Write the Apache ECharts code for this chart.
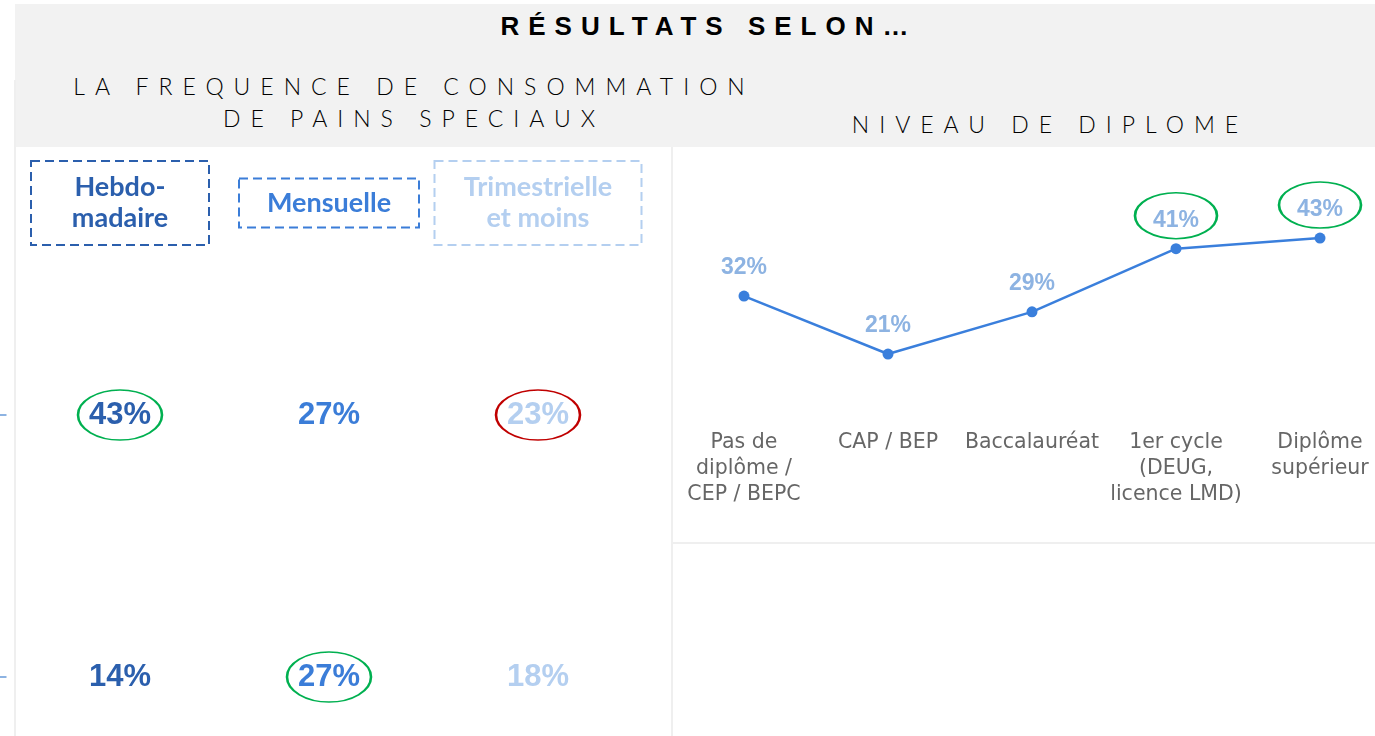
<!DOCTYPE html>
<html>
<head>
<meta charset="utf-8">
<script src="https://cdn.jsdelivr.net/npm/echarts@6/dist/echarts.min.js"></script>
<style>
  body { margin: 0; width: 1375px; height: 736px; position: relative; overflow: hidden; background: #fff; }
  .band { position: absolute; left: 15px; top: 4px; width: 1360px; height: 143px; background: #f2f2f2; }
  .vline { position: absolute; background: #efefef; width: 2px; }
  .hline { position: absolute; background: #efefef; height: 2px; }
  .titre { position: absolute; left: 0; width: 1400px; top: 11px; text-align: center;
    font: bold 26px 'Liberation Sans', sans-serif; letter-spacing: 9px; padding-left: 9px; color: #000; }
  .sous-titre { position: absolute; text-align: center; font-family: Lato, 'Open Sans', sans-serif;
    font-weight: 300; font-size: 23px; letter-spacing: 10px; color: #000; line-height: 32px; }
  /* plus grand que la page : la grille du tableau déborde en bas */
  #chart { position: absolute; left: 0; top: 0; width: 1500px; height: 900px; }
</style>
</head>
<body>
  <div class="band"></div>
  <div class="vline" style="left: 14px; top: 80px; height: 656px"></div>
  <div class="vline" style="left: 671px; top: 147px; height: 589px"></div>
  <div class="hline" style="left: 673px; top: 542px; width: 702px"></div>

  <div class="titre">RÉSULTATS SELON…</div>
  <div class="sous-titre" style="left: 0; width: 808px; top: 70px; padding-left: 10px">LA FREQUENCE DE CONSOMMATION<br>DE PAINS SPECIAUX</div>
  <div class="sous-titre" style="left: 700px; width: 680px; top: 108px; padding-left: 10px">NIVEAU DE DIPLOME</div>

  <div id="chart"></div>

<script>
// fréquence de consommation de pains spéciaux
const frequences = ['Hebdo-\nmadaire', 'Mensuelle', 'Trimestrielle\net moins']
const lignes = ['ligne 1', 'ligne 2']
const hebdo = [43, 14]
const mensuelle = [27, 27]
const trimestrielle = [23, 18]
const cellulesVertes = [[0, 0], [1, 1]]
const cellulesRouges = [[2, 0]]

// niveau de diplôme
const diplomes = [
  'Pas de\ndiplôme /\nCEP / BEPC',
  'CAP / BEP',
  'Baccalauréat',
  '1er cycle\n(DEUG,\nlicence LMD)',
  'Diplôme\nsupérieur'
]
const tauxDiplome = [32, 21, 29, 41, 43]
const diplomesSurlignes = [3, 4]

const couleurs = ['#2b5fad', '#3b7dd8', '#b4cff0']
const largeursBoites = [178, 180, 207]
const paddingsBoites = [[11, 0], [9, 0], [11, 0]]
const vert = '#00b050'
const rouge = '#c00000'

const colonnes = [hebdo, mensuelle, trimestrielle]

const chart = echarts.init(document.getElementById('chart'))

const option = {
  animation: false,
  backgroundColor: 'transparent',
  grid: [
    { left: 15.5, top: 284, width: 627, height: 524 },
    { left: 672, top: 201.2, width: 720, height: 263.5 }
  ],
  xAxis: [
    {
      type: 'category',
      gridIndex: 0,
      position: 'top',
      data: frequences.map((f, i) => ({
        value: f,
        textStyle: {
          color: couleurs[i],
          borderColor: couleurs[i],
          width: largeursBoites[i],
          padding: paddingsBoites[i],
          align: 'center',
          verticalAlign: 'middle'
        }
      })),
      axisLine: { show: false },
      axisTick: { show: false },
      axisLabel: {
        interval: 0,
        margin: 81,
        fontFamily: 'Lato',
        fontWeight: 'bold',
        fontSize: 27,
        lineHeight: 31,
        borderWidth: 2,
        borderType: [9, 5]
      }
    },
    {
      type: 'category',
      gridIndex: 1,
      data: diplomes,
      offset: -43,
      axisLine: { show: false },
      axisTick: { show: false },
      axisLabel: {
        interval: 0,
        margin: 8,
        fontFamily: 'DejaVu Sans',
        fontSize: 20.5,
        lineHeight: 26,
        color: '#666666'
      }
    }
  ],
  yAxis: [
    {
      type: 'category',
      gridIndex: 0,
      data: lignes,
      inverse: true,
      offset: 9,
      axisLine: { show: false },
      axisLabel: { show: false },
      axisTick: {
        show: true,
        alignWithLabel: true,
        length: 7,
        lineStyle: { color: '#8db3e2', width: 2 }
      },
      splitLine: { show: false }
    },
    {
      type: 'value',
      gridIndex: 1,
      min: 0,
      max: 50,
      show: false
    }
  ],
  series: [
    ...colonnes.map((vals, c) => ({
      type: 'scatter',
      name: frequences[c],
      xAxisIndex: 0,
      yAxisIndex: 0,
      silent: true,
      symbolSize: 1,
      itemStyle: { color: 'transparent', opacity: 1 },
      data: vals.map((v, r) => [c, r, v]),
      label: {
        show: true,
        position: 'inside',
        formatter: (p) => p.value[2] + '%',
        color: couleurs[c],
        fontFamily: 'Liberation Sans',
        fontWeight: 'bold',
        fontSize: 31
      }
    })),
    {
      type: 'scatter',
      xAxisIndex: 0,
      yAxisIndex: 0,
      silent: true,
      symbol: 'circle',
      symbolSize: [84, 50],
      itemStyle: { color: 'rgba(0,0,0,0)', borderColor: vert, borderWidth: 2, opacity: 1 },
      data: cellulesVertes,
      z: 3
    },
    {
      type: 'scatter',
      xAxisIndex: 0,
      yAxisIndex: 0,
      silent: true,
      symbol: 'circle',
      symbolSize: [84, 50],
      itemStyle: { color: 'rgba(0,0,0,0)', borderColor: rouge, borderWidth: 2, opacity: 1 },
      data: cellulesRouges,
      z: 3
    },
    {
      type: 'line',
      name: 'Niveau de diplôme',
      xAxisIndex: 1,
      yAxisIndex: 1,
      data: tauxDiplome,
      color: '#3a7fdc',
      lineStyle: { width: 2.5 },
      symbol: 'circle',
      symbolSize: 11,
      label: {
        show: true,
        position: 'top',
        distance: 11,
        formatter: '{c}%',
        color: '#8db3e2',
        fontFamily: 'Liberation Sans',
        fontWeight: 'bold',
        fontSize: 23
      }
    },
    {
      type: 'scatter',
      xAxisIndex: 1,
      yAxisIndex: 1,
      silent: true,
      symbol: 'circle',
      symbolSize: [82, 46],
      symbolOffset: [0, -33],
      itemStyle: { color: 'rgba(0,0,0,0)', borderColor: vert, borderWidth: 2, opacity: 1 },
      data: diplomesSurlignes.map((i) => [i, tauxDiplome[i]]),
      z: 3
    }
  ]
}

chart.setOption(option)
</script>
</body>
</html>
